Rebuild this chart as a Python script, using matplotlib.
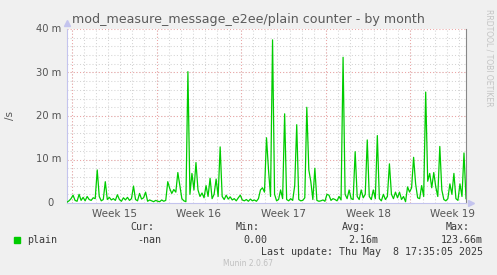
import matplotlib
matplotlib.use('Agg')
import matplotlib.pyplot as plt
import matplotlib.dates as mdates
from matplotlib.patches import Rectangle
import pandas as pd

# plain counter, milli per second, one value per 4 hours
start = pd.Timestamp('2025-04-06 14:10')
plain = [0.2, 0.5, 1.0, 1.8, 0.6, 0.4, 2.0, 0.6, 1.3, 0.5, 1.5, 0.8, 0.6, 1.2, 1.0,
         7.6, 1.5, 0.5, 0.8, 4.9, 0.8,
         1.3, 0.7, 1.0, 0.6, 1.9,
         0.8, 0.4, 1.2, 0.7, 1.3, 0.6, 1.0, 3.9,
         0.8, 0.5, 2.2, 0.9, 1.2, 2.5,
         0.4, 0.7, 0.5, 0.3, 0.6, 0.4, 0.3, 0.7, 0.4, 0.6,
         4.9, 3.3, 2.2, 3.1, 2.5, 7.0, 4.0, 1.0, 0.5, 0.3,
         30.2, 2.0, 6.8, 3.0, 9.3, 3.0, 1.5, 2.3, 1.2, 4.0,
         1.5, 5.7, 1.0, 2.0, 5.5, 1.5, 12.9, 1.5,
         0.8, 1.8, 0.9, 1.4, 0.7, 1.0, 0.5, 1.2, 1.8,
         0.7, 0.5, 0.8, 0.4, 0.9, 0.5, 0.7, 0.4,
         1.0, 3.0, 3.5, 2.5, 15.0, 7.6, 1.5,
         37.5, 2.0, 0.5, 0.8, 3.0, 1.0, 20.5,
         0.8, 0.5, 1.0, 0.6, 4.0, 18.0,
         0.8, 0.5, 0.6, 1.2, 22.0,
         7.6, 4.9, 0.8, 8.0, 0.6,
         0.4, 0.5, 0.7, 0.4,
         2.0, 1.8, 0.6, 1.0, 0.8, 0.5, 1.5, 0.7,
         33.5, 2.0, 1.0, 3.0, 1.0, 0.8,
         11.8, 1.5, 0.8, 3.0, 1.2, 2.0,
         14.5, 1.5, 0.8, 3.0, 1.0,
         15.5, 1.0, 0.5, 2.0, 0.8, 1.5,
         9.0, 2.0, 1.0, 2.5, 1.2, 2.5, 0.8, 1.5, 0.3,
         3.7, 2.5, 3.5, 10.5, 4.4, 1.2, 1.0, 4.0, 1.5,
         25.5, 5.0, 6.8, 3.5, 7.0, 3.7, 1.5,
         13.0, 3.0, 0.8, 0.5, 1.0,
         4.4, 2.0, 6.8, 1.0, 0.6, 4.4, 1.5, 11.5, 1.0]
times = pd.date_range(start, periods=len(plain), freq='4h')

week_starts = pd.date_range('2025-04-07', periods=5, freq='7D')
week_labels = ['Week 15', 'Week 16', 'Week 17', 'Week 18', 'Week 19']
days = pd.date_range('2025-04-07', '2025-05-09', freq='D')

y_major = [0, 10, 20, 30, 40]
y_labels = ['0', '10 m', '20 m', '30 m', '40 m']
y_minor = list(range(2, 40, 2))

title = 'mod_measure_message_e2ee/plain counter - by month'
cur, vmin, vavg, vmax = '-nan', '0.00', '2.16m', '123.66m'
last_update = 'Last update: Thu May  8 17:35:05 2025'

W, H = 497, 275
def fx(x): return x / W
def fy(y): return 1 - y / H

fig = plt.figure(figsize=(W / 100, H / 100), dpi=100, facecolor='#f0f0f0')
ax = fig.add_axes([fx(67), fy(203), 399 / W, 174 / H])
ax.set_facecolor('white')

t = mdates.date2num(times)
ax.set_xlim(t[0], t[-1])
ax.set_ylim(0, 40)

# grid
minor_c, major_c = '#d4d4d4', '#eda6a6'
for d in mdates.date2num(days):
    ax.axvline(d, color=minor_c, lw=0.75, ls=(0, (1, 2)), zorder=1)
for d in mdates.date2num(week_starts):
    ax.axvline(d, color=major_c, lw=0.75, ls=(0, (1, 2)), zorder=1.5)
for v in y_minor:
    ax.axhline(v, color=minor_c, lw=0.75, ls=(0, (1, 2)), zorder=1)
for v in y_major[1:]:
    ax.axhline(v, color=major_c, lw=0.75, ls=(0, (1, 2)), zorder=1.5)

ax.plot(t, plain, color='#00cc00', lw=0.9, zorder=3)

# axes frame
ax.spines['top'].set_visible(False)
ax.spines['left'].set_color('#c4c4ee')
ax.spines['bottom'].set_color('#c4c4ee')
ax.spines['right'].set_color('#888888')
for s in ['left', 'bottom', 'right']:
    ax.spines[s].set_linewidth(0.8)
ax.plot([0], [1 + 6 / 174], marker='^', ms=4.5, color='#c4c4ee',
        transform=ax.transAxes, clip_on=False)
ax.plot([1 + 5 / 399], [0], marker='>', ms=4.5, color='#c4c4ee',
        transform=ax.transAxes, clip_on=False)

mids = mdates.date2num(week_starts + pd.Timedelta(days=3.5))
ax.set_xticks(mids)
ax.set_xticklabels(week_labels, fontsize=7.5, color='#555555')
ax.tick_params(axis='x', length=0, pad=4)
ax.set_yticks([])

for v, lab in zip(y_major, y_labels):
    ypix = 203 - v * 174 / 40
    xr = 54 if lab == '0' else 61
    fig.text(fx(xr), fy(ypix), lab, ha='right', va='center', fontsize=7.2, color='#555555')

fig.text(fx(248), fy(19), title, ha='center', va='center', fontsize=9.1, color='#5a5a5a')
fig.text(fx(10), fy(115), '/s', ha='center', va='center', rotation=90, fontsize=7.5, color='#555555')
fig.text(fx(489), fy(58), 'RRDTOOL / TOBI OETIKER', ha='center', va='center',
         rotation=270, fontsize=5.5, color='#c4c4c4')

# legend
mono = 'DejaVu Sans Mono'
fig.patches.append(Rectangle((fx(14), fy(243)), 6 / W, 6 / H, color='#00cc00',
                             transform=fig.transFigure, figure=fig))
fig.text(fx(27), fy(240), 'plain', ha='left', va='center', fontsize=7.2, family=mono, color='#3a3a3a')
for xr, lab in [(154, 'Cur:'), (260, 'Min:'), (366, 'Avg:'), (470, 'Max:')]:
    fig.text(fx(xr), fy(227), lab, ha='right', va='center', fontsize=7.2, family=mono, color='#3a3a3a')
for xr, lab in [(161, cur), (267, vmin), (378, vavg), (483, vmax)]:
    fig.text(fx(xr), fy(240), lab, ha='right', va='center', fontsize=7.2, family=mono, color='#3a3a3a')
fig.text(fx(483), fy(252), last_update, ha='right', va='center', fontsize=7.2, family=mono, color='#3a3a3a')
fig.text(fx(248), fy(263), 'Munin 2.0.67', ha='center', va='center', fontsize=5.5, color='#c0c0c0')

fig.savefig('out.png', dpi=100, facecolor=fig.get_facecolor())
